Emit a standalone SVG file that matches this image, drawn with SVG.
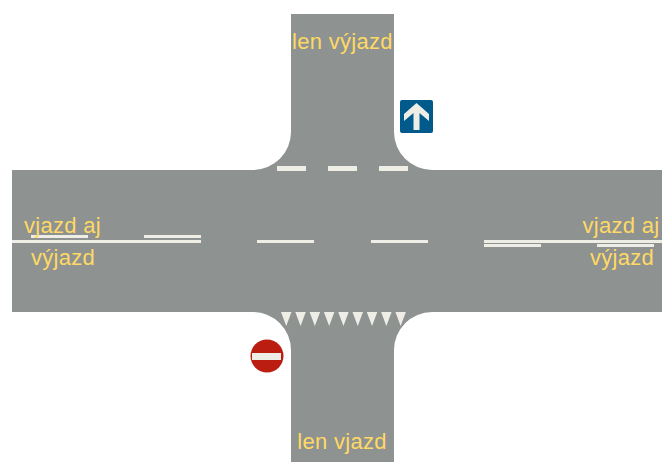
<svg xmlns="http://www.w3.org/2000/svg" width="662" height="462" viewBox="0 0 662 462">
<style>
.m{fill:#eeeee6}
.t{font-family:"Liberation Sans",Arial,sans-serif;font-size:22px;fill:#ffd966;text-anchor:middle;letter-spacing:.3px}
</style>
<rect width="662" height="462" fill="#fff"/>
<g id="road"><path d="M291 14H394V132A38 38 0 0 0 432 170H662V312H432A38 38 0 0 0 394 350V462H291V350A38 38 0 0 0 253 312H12V170H253A38 38 0 0 0 291 132Z" fill="#8e9290"/></g>
<g id="markings">
<rect class="m" x="12" y="240" width="189" height="3"/>
<rect class="m" x="31" y="235" width="57" height="3"/>
<rect class="m" x="144" y="235" width="57" height="3"/>
<rect class="m" x="257" y="240" width="57" height="3"/>
<rect class="m" x="371" y="240" width="57" height="3"/>
<rect class="m" x="484" y="240" width="178" height="3"/>
<rect class="m" x="484" y="244" width="57" height="3"/>
<rect class="m" x="597" y="244" width="57" height="3"/>
<rect class="m" x="277" y="166" width="29" height="5"/>
<rect class="m" x="328" y="166" width="29" height="5"/>
<rect class="m" x="379" y="166" width="29" height="5"/>
<path class="m" d="M281 312h10.500l-5.250 14zM295.300 312h10.500l-5.250 14zM309.600 312h10.500l-5.250 14zM323.900 312h10.500l-5.250 14zM338.200 312h10.500l-5.250 14zM352.500 312h10.500l-5.250 14zM366.800 312h10.500l-5.250 14zM381.100 312h10.500l-5.250 14zM395.400 312h10.500l-5.250 14z"/>
</g>
<g id="sign-no-entry"><circle cx="267" cy="356" r="16.500" fill="#bb1e10"/><rect class="m" x="252" y="353" width="29" height="7"/></g>
<g id="sign-one-way"><rect x="400" y="100" width="33" height="33" rx="2" fill="#005a8c"/><path class="m" d="M413.500 130V113L404 121V114L416.500 103L429 114V121L419.500 113V130Z"/></g>
<g id="labels">
<text class="t" x="342.500" y="49">len výjazd</text>
<text class="t" x="342" y="449">len vjazd</text>
<text class="t" x="62.500" y="233">vjazd aj</text>
<text class="t" x="63" y="265">výjazd</text>
<text class="t" x="621" y="233">vjazd aj</text>
<text class="t" x="622" y="265">výjazd</text>
</g>
</svg>
